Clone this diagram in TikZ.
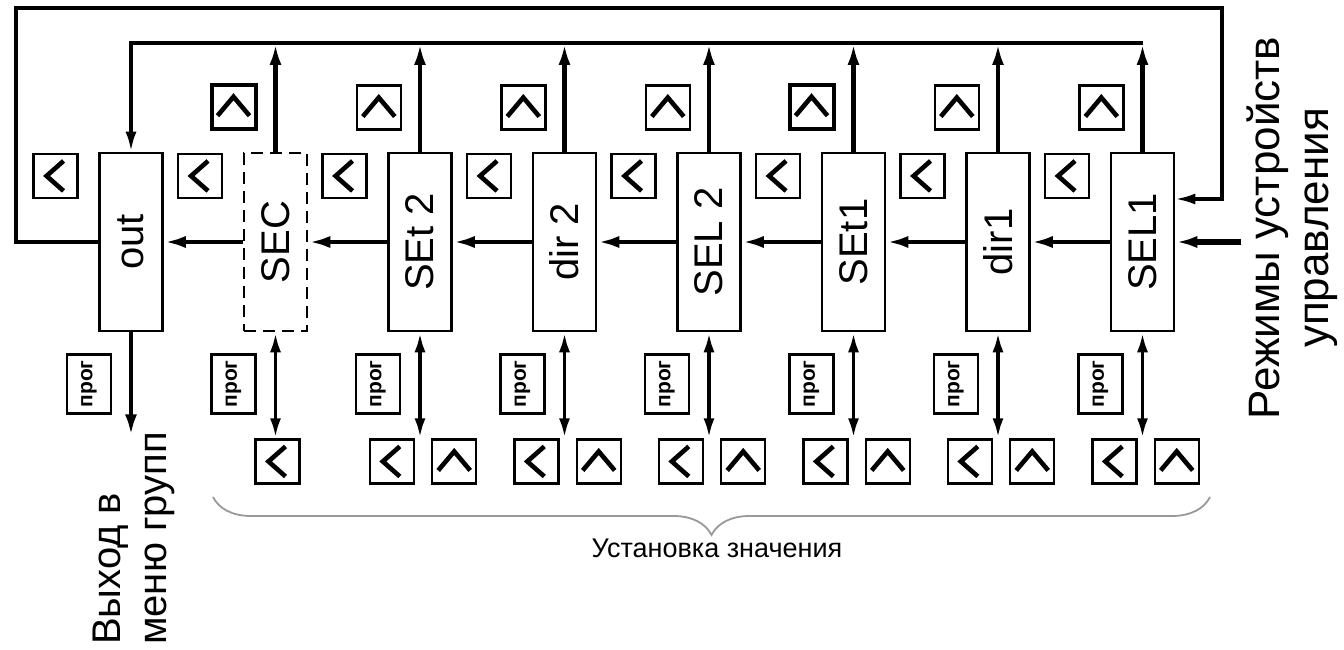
\documentclass[tikz,border=0pt]{standalone}
\usepackage{fontspec}
\setmainfont{Liberation Sans}
\usetikzlibrary{arrows.meta,positioning,decorations.pathreplacing}
\tikzset{
 blk/.style={draw, line width=2.5pt, minimum width=63pt, minimum height=178pt, inner sep=0pt,
             font=\fontsize{40}{44}\selectfont},
 dashblk/.style={blk, dash pattern=on 12pt off 7pt},
 keybox/.style={draw, line width=2.4pt, minimum width=44pt, minimum height=44pt, inner sep=0pt},
 keyleft/.style={keybox, path picture={\draw[line width=4.6pt]
     ([shift={(8pt,15pt)}]path picture bounding box.center) -- ++(-17pt,-15pt) -- ++(17pt,-15pt);}},
 keyup/.style={keybox, path picture={\draw[line width=4.6pt]
     ([shift={(-16pt,-9pt)}]path picture bounding box.center) -- ++(16pt,19pt) -- ++(16pt,-19pt);}},
 progkey/.style={keybox, minimum height=59pt, font=\bfseries\fontsize{21}{21}\selectfont},
 flow/.style={-{Latex[length=22pt,width=12pt]}, line width=4.4pt},
 dflow/.style={{Latex[length=20pt,width=11pt]}-{Latex[length=20pt,width=11pt]}, line width=3.8pt},
 thinflow/.style={-{Latex[length=20pt,width=11pt]}, line width=3.2pt},
 lbl/.style={inner sep=0pt, font=\fontsize{44}{49}\selectfont},
 brc/.style={decorate, decoration={brace, mirror, amplitude=38pt}, draw=black!40, line width=1.8pt}
}

\begin{document}
\begin{tikzpicture}[x=1pt, y=1pt]
\useasboundingbox (0,0) rectangle (1344,-650);

% menu parameters
\node[blk] (out) at (131,-242) {\rotatebox{90}{out}};
\node[dashblk, right=79pt of out] (sec) {\rotatebox{90}{SEC}};
\node[blk, right=79pt of sec] (set2) {\rotatebox{90}{SEt 2}};
\node[blk, right=79pt of set2] (dir2) {\rotatebox{90}{dir 2}};
\node[blk, right=79pt of dir2] (sel2) {\rotatebox{90}{SEL 2}};
\node[blk, right=79pt of sel2] (set1) {\rotatebox{90}{SEt1}};
\node[blk, right=79pt of set1] (dir1) {\rotatebox{90}{dir1}};
\node[blk, right=79pt of dir1] (sel1) {\rotatebox{90}{SEL1}};

% buttons
\foreach \b in {out,sec,set2,dir2,sel2,set1,dir1,sel1} {
  \node[keyleft, below left=1pt and 19.5pt of \b.north west] (kl-\b) {};
  \node[progkey, below left=21pt and 19pt of \b.south] (kp-\b) {\rotatebox{90}{прог}};
}
\foreach \b/\w in {sec/4,set2/2.4,dir2/2.4,sel2/2.4,set1/4,dir1/2.4,sel1/2.4}
  \node[keyup, line width=\w pt, above left=21pt and 18pt of \b.north] (ku-\b) {};

% value setting
\foreach \b in {sec,set2,dir2,sel2,set1,dir1,sel1} {
  \coordinate[below=106pt of \b.south] (e-\b);
  \draw[dflow] (\b.south) -- (e-\b);
}
\node[keyleft, below=0pt of e-sec, xshift=2pt] (vl-sec) {};
\foreach \b in {set2,dir2,sel2,set1,dir1,sel1} {
  \node[keyleft, below left=0pt and 5pt of e-\b] (vl-\b) {};
  \node[keyup, below right=0pt and 11pt of e-\b] (vu-\b) {};
}
\coordinate[below=104pt of out.south] (e-out);
\draw[flow] (out.south) -- (e-out);

% chain
\foreach \a/\b in {sel1/dir1,dir1/set1,set1/sel2,sel2/dir2,dir2/set2,set2/sec,sec/out}
  \draw[flow] (\a.west) -- (\b.east);
\coordinate (in) at (1241,-242);
\draw[flow, line width=6pt] (in) -- (sel1.east);

% upper bus
\coordinate (busL) at (131,-43);
\coordinate (busR) at (sel1.north |- busL);
\foreach \b in {sec,set2,dir2,sel2,set1,dir1,sel1}
  \draw[flow] (\b.north) -- (\b.north |- busL);
\draw[thinflow, line width=3.6pt] (busR) -- (busL) -- (out.north);

% outer loop
\coordinate (loopL) at (16,-8);
\coordinate (loopR) at (1222,-8);
\coordinate[above=43pt of sel1.east] (fb);
\draw[thinflow] (out.west) -| (loopL) -- (loopR) |- (fb);

% labels
\node[lbl, rotate=90, anchor=north west, align=left, font=\fontsize{40}{46}\selectfont] (exit) at (93,-645) {Выход в\\меню групп};
\node[lbl, rotate=90, anchor=north, align=center] (modes) at (1247,-228) {Режимы устройств\\управления};
\coordinate (brL) at (213,-497);
\coordinate (brR) at (1210,-497);
\draw[brc] (brL) -- (brR);
\node[lbl, font=\fontsize{27}{27}\selectfont] (setv) at (717,-548) {Установка значения};

\end{tikzpicture}
\end{document}
